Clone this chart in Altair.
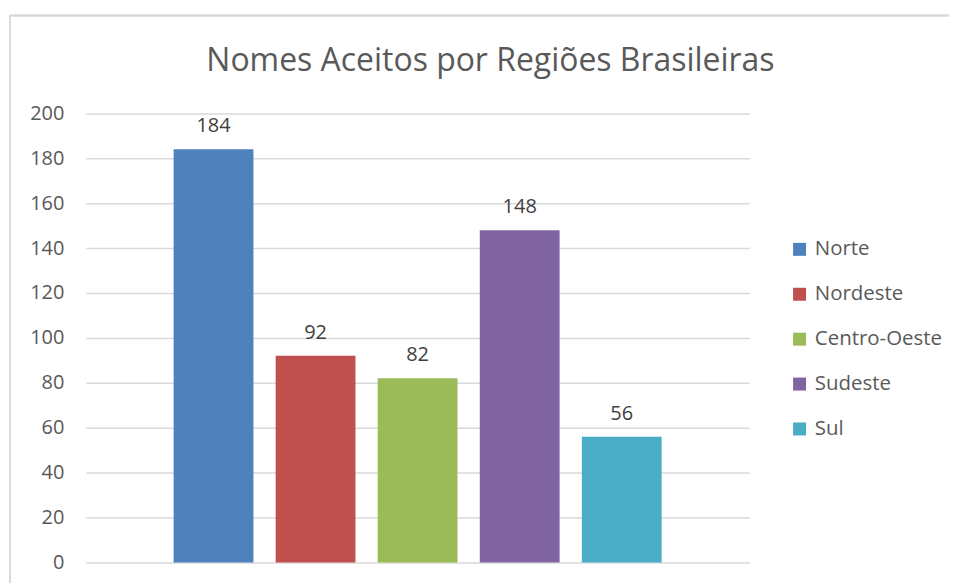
import altair as alt
import pandas as pd

regioes = ["Norte", "Nordeste", "Centro-Oeste", "Sudeste", "Sul"]
valores = [184, 92, 82, 148, 56]
cores = ["#4F81BD", "#C0504D", "#9BBB59", "#8064A2", "#4BACC6"]
y_ticks = [0, 20, 40, 60, 80, 100, 120, 140, 160, 180, 200]

df = pd.DataFrame({"Regiao": regioes, "Valor": valores})

FONT = "Open Sans"
GREY = "#595959"

x_enc = alt.X("Regiao:N", sort=regioes, axis=None,
              scale=alt.Scale(paddingInner=0.218, paddingOuter=0.86))
y_enc = alt.Y("Valor:Q", title=None,
              scale=alt.Scale(domain=[0, 200], nice=False),
              axis=alt.Axis(values=y_ticks, grid=True, gridColor="#d9d9d9", gridWidth=1.5,
                            domain=False, ticks=False, labelFontSize=20, labelColor=GREY,
                            labelFont=FONT, labelPadding=22))

bars = alt.Chart(df).mark_bar().encode(
    x=x_enc,
    y=y_enc,
    color=alt.Color("Regiao:N", sort=regioes, title=None,
                    scale=alt.Scale(domain=regioes, range=cores),
                    legend=alt.Legend(orient="none", legendX=705, legendY=126,
                                      symbolType="square", symbolSize=169,
                                      symbolStrokeWidth=0, labelFontSize=20.5,
                                      labelColor=GREY, labelFont=FONT,
                                      rowPadding=24, labelOffset=5)),
)

labels = alt.Chart(df).mark_text(dy=-17, baseline="alphabetic", fontSize=20,
                                 color="#404040", font=FONT).encode(
    x=x_enc,
    y=alt.Y("Valor:Q"),
    text=alt.Text("Valor:Q"),
)

border_top = alt.Chart(df).mark_rule(color="#d9d9d9", strokeWidth=1.5, clip=False).encode(
    x=alt.value(-76), x2=alt.value(1000), y=alt.value(-98)
)
border_left = alt.Chart(df).mark_rule(color="#d9d9d9", strokeWidth=1.5, clip=False).encode(
    x=alt.value(-76), y=alt.value(-98), y2=alt.value(600)
)

chart = alt.layer(border_top, border_left, bars, labels).properties(
    width=665, height=450,
    title=alt.TitleParams("Nomes Aceitos por Regiões Brasileiras", fontSize=32,
                          font=FONT, fontWeight="normal", color=GREY,
                          anchor="middle", dx=73, dy=101, offset=38),
    autosize=alt.AutoSizeParams(type="none"),
    padding={"left": 78, "top": 105, "right": 200, "bottom": 20},
).configure_view(stroke=None)

chart.save("out.html", embed_options={"renderer": "svg", "actions": False})
